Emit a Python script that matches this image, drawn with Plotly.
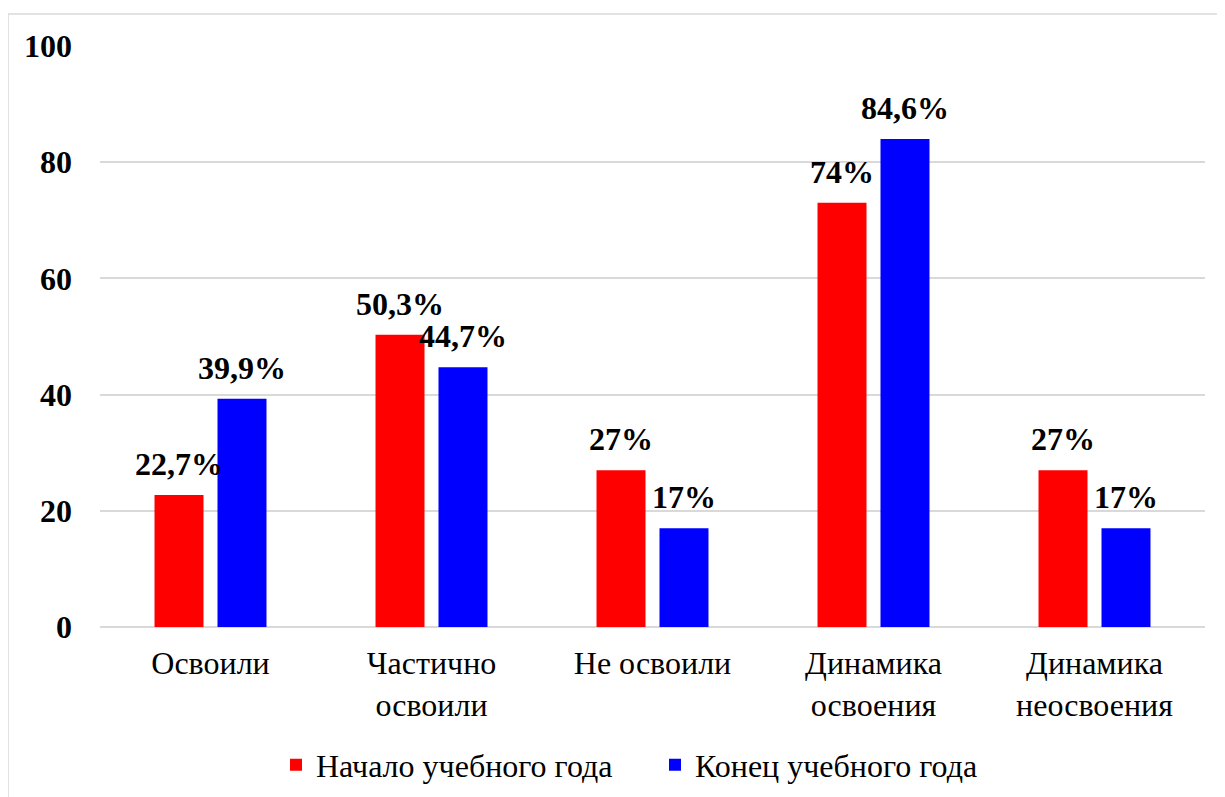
import plotly.graph_objects as go

categories = ["Освоили", "Частично<br>освоили", "Не освоили", "Динамика<br>освоения", "Динамика<br>неосвоения"]
series_names = ["Начало учебного года", "Конец учебного года"]
start_values = [22.7, 50.3, 27, 73, 27]
end_values = [39.3, 44.7, 17, 84, 17]
start_labels = ["22,7%", "50,3%", "27%", "74%", "27%"]
end_labels = ["39,9%", "44,7%", "17%", "84,6%", "17%"]
y_ticks = [0, 20, 40, 60, 80, 100]

FONT = "Times New Roman, Liberation Serif, serif"
FS = 32
OFF = 8  # page body margin
W, H = 1225 - OFF, 797 - OFF
L, T = 100 - OFF, 46 - OFF
R = W - (1205 - OFF)
B = H - (627 - OFF)
pw, ph = W - L - R, H - T - B
BARGAP, GROUPGAP = 0.43, 0.222
slot_px = pw / len(categories) * (1 - BARGAP) / 2

def py(page_y):
    return (627 - page_y) / ph

def px(page_x):
    return (page_x - 100) / pw

fig = go.Figure()
annotations = []
for k, (name, vals, labels, color) in enumerate([
    (series_names[0], start_values, start_labels, "#ff0000"),
    (series_names[1], end_values, end_labels, "#0000ff"),
]):
    fig.add_trace(go.Bar(
        x=categories, y=vals, name=name,
        marker=dict(color=color, line=dict(width=0)),
    ))
    shift = (k - 0.5) * slot_px
    for c, v, t in zip(categories, vals, labels):
        annotations.append(dict(
            x=c, y=v, xref="x", yref="y", text=t, showarrow=False,
            xanchor="center", yanchor="bottom", xshift=shift, yshift=11,
            font=dict(family=FONT, size=FS, color="black", weight="bold"),
        ))

fig.update_layout(
    width=W, height=H,
    margin=dict(l=L, r=R, t=T, b=B, autoexpand=False),
    paper_bgcolor="white", plot_bgcolor="white",
    barmode="group", bargap=BARGAP, bargroupgap=GROUPGAP,
    font=dict(family=FONT, size=FS, color="black"),
    legend=dict(orientation="h", x=px(290 - 14), xanchor="left",
                y=py(765), yanchor="middle",
                entrywidth=334, entrywidthmode="pixels",
                font=dict(family=FONT, size=FS, color="black")),
    xaxis=dict(showline=False, showgrid=False, ticks="", ticklabelstandoff=14,
               automargin=False,
               tickfont=dict(family=FONT, size=FS, color="black")),
    yaxis=dict(range=[0, 100], tickvals=y_ticks, showgrid=True, gridcolor="#d9d9d9",
               gridwidth=1.5, zeroline=True, zerolinecolor="#d9d9d9", zerolinewidth=1.5,
               showline=False, ticks="", ticklabelstandoff=27, automargin=False,
               tickfont=dict(family=FONT, size=FS, color="black", weight="bold")),
    annotations=annotations,
    shapes=[dict(type="rect", xref="paper", yref="paper",
                 x0=px(8), x1=1.2, y0=-0.5, y1=py(14),
                 line=dict(color="#d9d9d9", width=1.5), layer="below")],
)

fig.write_html("out.html")
